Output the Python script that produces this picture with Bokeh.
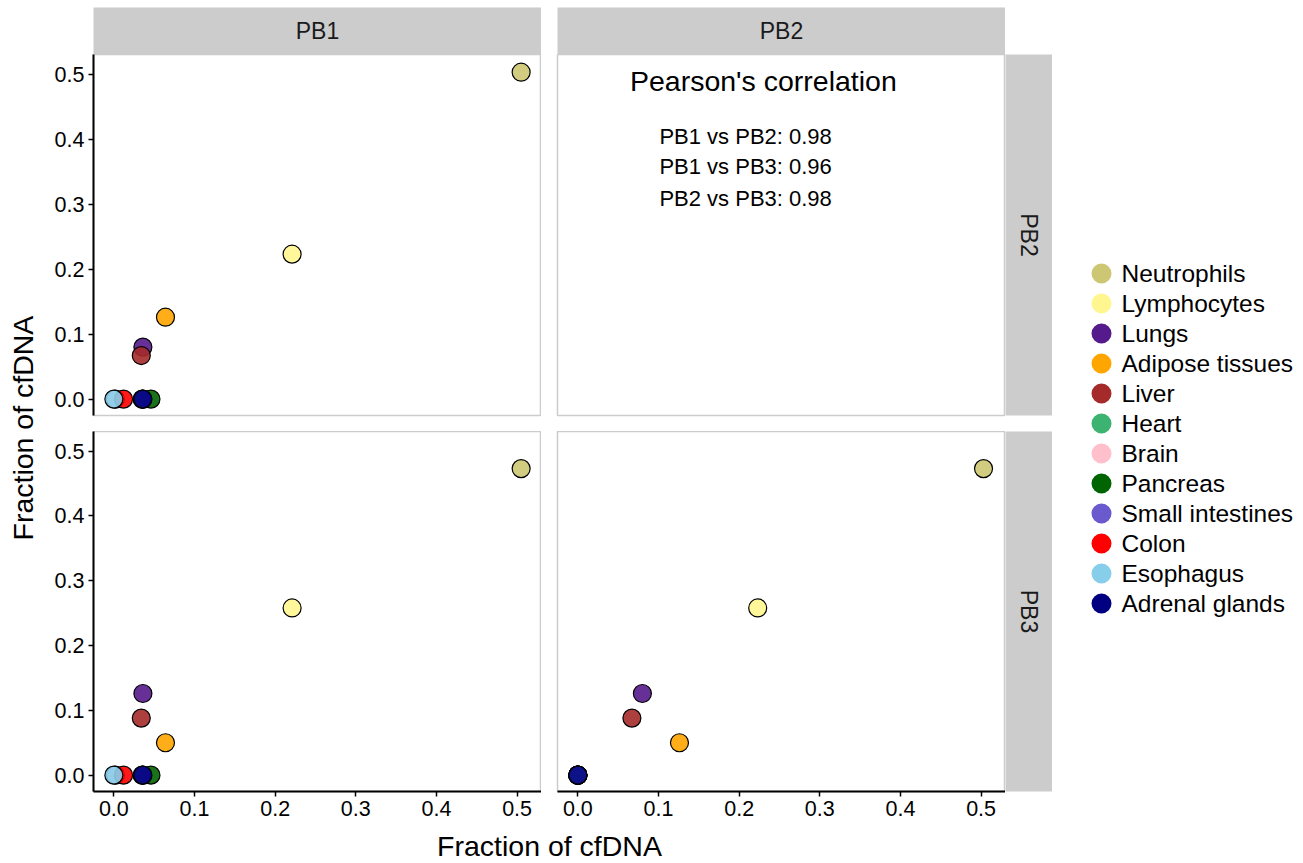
import numpy as np
from bokeh.plotting import figure
from bokeh.layouts import row, column
from bokeh.models import (Range1d, FactorRange, FixedTicker, ColumnDataSource,
                          NumeralTickFormatter, Spacer)
from bokeh.core.properties import value
from bokeh.embed import file_html
from bokeh.resources import INLINE

FONT = "Liberation Sans"

# ---------------- data ----------------
cell_types = ["Neutrophils", "Lymphocytes", "Lungs", "Adipose tissues", "Liver", "Heart",
              "Brain", "Pancreas", "Small intestines", "Colon", "Esophagus", "Adrenal glands"]
colors = ["#CDC673", "#FFF68F", "#551A8B", "#FFA500", "#A52A2A", "#3CB371",
          "#FFC0CB", "#006400", "#6A5ACD", "#FF0000", "#87CEEB", "#000080"]
pb1 = [0.505, 0.221, 0.036, 0.064, 0.034, 0.036, 0.002, 0.046, 0.035, 0.012, 0.000, 0.036]
pb2 = [0.503, 0.223, 0.080, 0.126, 0.067, 0.000, 0.000, 0.000, 0.000, 0.000, 0.000, 0.000]
pb3 = [0.473, 0.258, 0.126, 0.050, 0.088, 0.000, 0.000, 0.000, 0.000, 0.000, 0.000, 0.000]
samples = ["PB1", "PB2", "PB3"]
corr_title = "Pearson's correlation"
corr_labels = ["PB1 vs PB2: 0.98", "PB1 vs PB3: 0.96", "PB2 vs PB3: 0.98"]
ticks = [0.0, 0.1, 0.2, 0.3, 0.4, 0.5]
axis_title = "Fraction of cfDNA"

# ------------- scales (shared, ggplot-like 5% expansion) -------------
allv = np.array(pb1 + pb2 + pb3)
span = allv.max() - allv.min()
lo, hi = allv.min() - 0.05 * span, allv.max() + 0.05 * span

src = ColumnDataSource(dict(pb1=pb1, pb2=pb2, pb3=pb3, color=colors, name=cell_types))

STRIP = "#CCCCCC"
BORDER = "#CCCCCC"
W, H = 1303, 863
TOP_M = 7
PANEL_W, TOP_H, BOT_H = 448, 361, 360
YT_W, LEFT_B, GAP, XAX_B, STRIP_H, RSTRIP_W = 40, 53, 16, 36, 47, 47


def base_fig(width, height, left=0, bottom=0, top=0, xr=None, yr=None, xaxis=None, yaxis=None):
    p = figure(width=width, height=height,
               x_range=xr if xr is not None else Range1d(0, 1),
               y_range=yr if yr is not None else Range1d(0, 1),
               x_axis_location=xaxis, y_axis_location=yaxis,
               min_border_left=left, min_border_bottom=bottom,
               min_border_top=top, min_border_right=0,
               title=None, tools="", toolbar_location=None, output_backend="svg")
    p.xgrid.visible = False
    p.ygrid.visible = False
    p.border_fill_color = "white"
    return p


def style_axes(p):
    for ax in p.axis:
        ax.ticker = FixedTicker(ticks=ticks)
        ax.formatter = NumeralTickFormatter(format="0.0")
        ax.minor_tick_line_color = None
        ax.major_tick_out = 5
        ax.major_tick_in = 0
        ax.major_tick_line_color = "black"
        ax.major_tick_line_width = 1.5
        ax.axis_line_color = "black"
        ax.axis_line_width = 2
        ax.major_label_text_font = FONT
        ax.major_label_text_font_size = "21.5px"
        ax.major_label_text_color = "black"
        ax.major_label_standoff = 4


def panel(xcol, ycol, width, height, left, bottom, show_x, show_y):
    p = base_fig(width, height, left, bottom, 0, Range1d(lo, hi), Range1d(lo, hi),
                 "below" if show_x else None, "left" if show_y else None)
    p.outline_line_color = BORDER
    p.outline_line_width = 1.5
    style_axes(p)
    if xcol is not None:
        p.scatter(x=xcol, y=ycol, source=src, size=18, fill_color="color",
                  fill_alpha=0.9, line_color="black", line_width=1.2)
    return p


def strip(text, width, height, left, bottom, top, angle):
    s = base_fig(width, height, left, bottom, top)
    s.background_fill_color = STRIP
    s.outline_line_color = None
    s.text(x=[0.5], y=[0.5], text=[text], angle=angle, text_align="center",
           text_baseline="middle", text_font=value(FONT), text_font_size="23px",
           text_color="#1A1A1A")
    return s


# strips on top
sTL = strip(samples[0], LEFT_B + PANEL_W, TOP_M + STRIP_H, LEFT_B, 0, TOP_M, 0)
sTR = strip(samples[1], GAP + PANEL_W, TOP_M + STRIP_H, GAP, 0, TOP_M, 0)
corner = Spacer(width=RSTRIP_W, height=TOP_M + STRIP_H)

# panels
TL = panel("pb1", "pb2", LEFT_B + PANEL_W, TOP_H + GAP, LEFT_B, GAP, False, True)
TR = panel(None, None, GAP + PANEL_W, TOP_H + GAP, GAP, GAP, False, False)
TR.text(x=[0.230], y=[0.490], text=[corr_title], text_align="center", text_baseline="middle",
        text_font=value(FONT), text_font_size="28.5px", text_color="black")
TR.text(x=[0.208] * 3, y=[0.404, 0.358, 0.309], text=corr_labels, text_align="center",
        text_baseline="middle", text_font=value(FONT), text_font_size="22px", text_color="black")
sR1 = strip(samples[1], RSTRIP_W, TOP_H + GAP, 0, GAP, 0, -np.pi / 2)

BL = panel("pb1", "pb3", LEFT_B + PANEL_W, BOT_H + XAX_B, LEFT_B, XAX_B, True, True)
BR = panel("pb2", "pb3", GAP + PANEL_W, BOT_H + XAX_B, GAP, XAX_B, True, False)
sR2 = strip(samples[2], RSTRIP_W, BOT_H + XAX_B, 0, XAX_B, 0, -np.pi / 2)

# x axis title spanning both panel columns
main_w = LEFT_B + PANEL_W + GAP + PANEL_W + RSTRIP_W
XT_H = H - (TOP_M + STRIP_H + TOP_H + GAP + BOT_H + XAX_B)
xt = base_fig(main_w, XT_H, 0, 0, 0, Range1d(0, main_w), Range1d(0, XT_H))
xt.outline_line_color = None
xt.text(x=[(LEFT_B + LEFT_B + 2 * PANEL_W + GAP) / 2], y=[XT_H - 18], text=[axis_title],
        text_align="center", text_baseline="middle", text_font=value(FONT),
        text_font_size="28.5px", text_color="black")

# y axis title spanning both panel rows
yt = base_fig(YT_W, H, 0, 0, 0, Range1d(0, YT_W), Range1d(0, H))
yt.outline_line_color = None
yt.text(x=[22], y=[H - (TOP_M + STRIP_H + (TOP_H + GAP + BOT_H) / 2) + 16], text=[axis_title],
        angle=np.pi / 2, text_align="center", text_baseline="middle", text_font=value(FONT),
        text_font_size="28.5px", text_color="black")

# legend (categorical column of keys)
LG_W = W - YT_W - main_w
LG_TOP, LG_PITCH = 258, 30
lg_h = LG_PITCH * len(cell_types)
lf = base_fig(LG_W, H, 0, H - LG_TOP - lg_h, LG_TOP,
              Range1d(0, LG_W), FactorRange(factors=cell_types[::-1], range_padding=0))
lf.outline_line_color = None
lf.scatter(x=49, y="name", source=src, size=20, fill_color="color", line_color=None)
lf.text(x=69, y="name", text="name", source=src, text_align="left", text_baseline="middle",
        text_font=value(FONT), text_font_size="24.5px", text_color="black")

main = column(row(sTL, sTR, corner), row(TL, TR, sR1), row(BL, BR, sR2), xt)
layout = row(yt, main, lf)

open("out.html", "w").write(file_html(layout, INLINE))
